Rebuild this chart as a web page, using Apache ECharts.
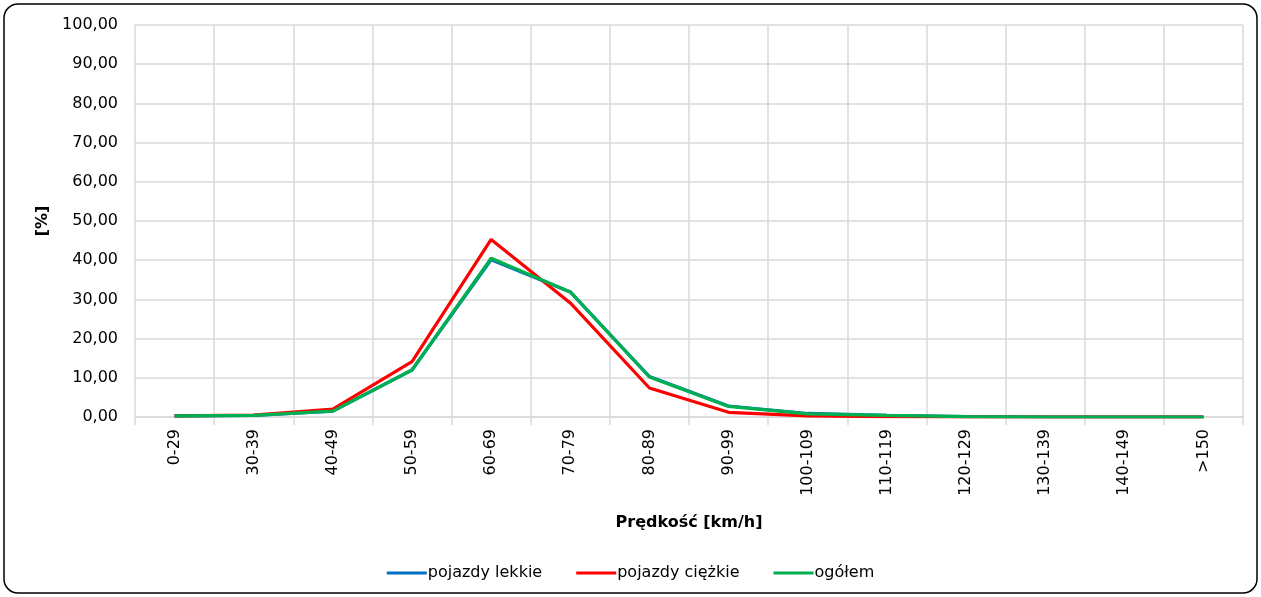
<!DOCTYPE html>
<html><head><meta charset="utf-8">
<script src="https://cdn.jsdelivr.net/npm/echarts@6/dist/echarts.min.js"></script>
<style>html,body{margin:0;padding:0;background:#fff}#c{width:1261px;height:597px}</style>
</head><body><div id="c"></div>
<script>
const categories = ['0-29','30-39','40-49','50-59','60-69','70-79','80-89','90-99','100-109','110-119','120-129','130-139','140-149','>150'];
const lekkie  = [0.3,0.4,1.5,12.0,40.1,31.9,10.3,2.8,0.9,0.4,0.1,0.0,0.0,0.0];
const ciezkie = [0.3,0.5,2.0,14.1,45.3,29.1,7.4,1.2,0.3,0.1,0.0,0.0,0.0,0.0];
const ogolem  = [0.3,0.4,1.5,12.0,40.5,31.9,10.2,2.7,0.8,0.4,0.1,0.0,0.0,0.0];
const font = 'DejaVu Sans, Verdana, sans-serif';
const chart = echarts.init(document.getElementById('c'));
const mk = (name, data, color, z) => ({name, type:'line', data, symbol:'none', z,
  lineStyle:{color, width:3.2}, itemStyle:{color}});
chart.setOption({
  animation:false,
  textStyle:{fontFamily:font},
  graphic:[{type:'rect', shape:{x:4,y:4,width:1253,height:589,r:14}, style:{fill:'none', stroke:'#000', lineWidth:1.5}, silent:true}],
  grid:{left:135, right:18, top:25, bottom:180},
  legend:{bottom:11, left:'center', icon:'rect', itemWidth:40, itemHeight:3, itemGap:34,
    textStyle:{fontFamily:font, fontSize:16, color:'#000', padding:[0,0,0,-4]},
    data:['pojazdy lekkie','pojazdy ciężkie','ogółem']},
  xAxis:{type:'category', data:categories, boundaryGap:true,
    name:'Prędkość [km/h]', nameLocation:'middle', nameGap:98,
    nameTextStyle:{fontFamily:font, fontSize:16, fontWeight:'bold', color:'#000'},
    axisLine:{lineStyle:{color:'#d9d9d9', width:1.5}},
    axisTick:{show:true, length:8, lineStyle:{color:'#d9d9d9', width:1.5}},
    axisLabel:{rotate:90, fontFamily:font, fontSize:16, color:'#000', margin:12},
    splitLine:{show:true, lineStyle:{color:'#d9d9d9', width:1.5}}},
  yAxis:{type:'value', min:0, max:100, interval:10,
    name:'[%]', nameLocation:'middle', nameRotate:90, nameGap:84,
    nameTextStyle:{fontFamily:font, fontSize:16, fontWeight:'bold', color:'#000'},
    axisLine:{show:false}, axisTick:{show:false},
    axisLabel:{fontFamily:font, fontSize:16, color:'#000', margin:17,
      formatter:v=>v.toFixed(2).replace('.',',')},
    splitLine:{lineStyle:{color:'#d9d9d9', width:1.5}}},
  series:[mk('pojazdy lekkie', lekkie, '#0070c0', 2), mk('pojazdy ciężkie', ciezkie, '#ff0000', 3), mk('ogółem', ogolem, '#00b050', 4)]
});
</script></body></html>
